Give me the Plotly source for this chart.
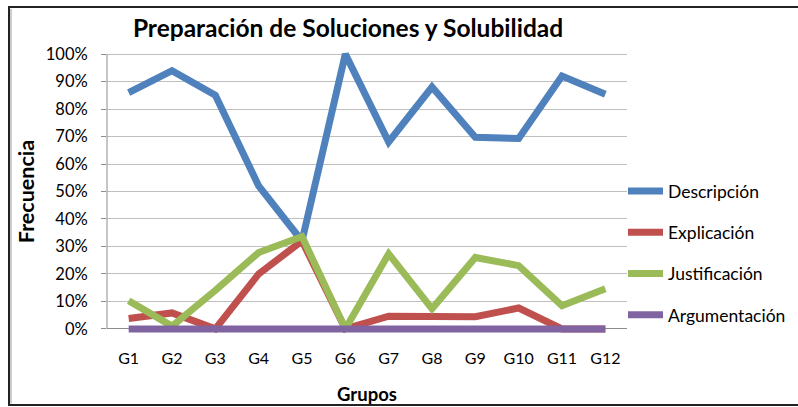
import plotly.graph_objects as go

grupos = ["G1", "G2", "G3", "G4", "G5", "G6", "G7", "G8", "G9", "G10", "G11", "G12"]
descripcion = [0.86, 0.94, 0.85, 0.52, 0.32, 1.00, 0.68, 0.88, 0.697, 0.693, 0.92, 0.854]
explicacion = [0.038, 0.058, 0.0, 0.20, 0.32, 0.0, 0.046, 0.048, 0.044, 0.076, 0.0, 0.0]
justificacion = [0.102, 0.01, 0.14, 0.278, 0.336, 0.0, 0.273, 0.073, 0.26, 0.23, 0.084, 0.146]
argumentacion = [0.0] * 12

series = [
    ("Descripción", descripcion, "#4F81BD"),
    ("Explicación", explicacion, "#C0504D"),
    ("Justificación", justificacion, "#9BBB59"),
    ("Argumentación", argumentacion, "#8064A2"),
]

W, H = 798, 407
FONT = "Lato"
pad = 0.015
plot_left, plot_right = 107, 627
y0_px, y1_px = 328.5, 54
unit = y0_px - y1_px
ml = plot_left
mr = W - plot_right
mt = y1_px - unit * pad
mb = H - y0_px - unit * pad
ph = H - mt - mb
pw = plot_right - plot_left

def px_x(px):
    return (px - ml) / pw

def px_y(py):
    return (H - mb - py) / ph

fig = go.Figure()
for i, (name, vals, color) in enumerate(series):
    fig.add_trace(go.Scatter(
        x=grupos, y=vals, name=name, mode="lines",
        line=dict(color=color, width=7),
        legendgroup=name,
    ))

fig.update_layout(
    width=W, height=H,
    margin=dict(l=ml, r=mr, t=mt, b=mb, autoexpand=False),
    paper_bgcolor="white", plot_bgcolor="white",
    font=dict(family=FONT, color="black", size=16),
    title=dict(text="<b>Preparación de Soluciones y Solubilidad</b>",
               x=px_x(348), xref="paper", xanchor="center",
               y=1 - 28 / H, yref="container", yanchor="middle",
               font=dict(size=24.5, family=FONT, color="black")),
    showlegend=True,
    legend=dict(x=px_x(623), xanchor="left", y=px_y(173), yanchor="top",
                traceorder="grouped", tracegroupgap=15.5, itemwidth=35,
                font=dict(size=17.5, family=FONT, color="black"),
                bgcolor="rgba(0,0,0,0)"),
    xaxis=dict(showgrid=False, showline=False, ticks="", zeroline=False,
               automargin=False,
               range=[-0.5, len(grupos) - 0.5],
               tickfont=dict(size=16, color="black"), ticklabelstandoff=14,
               title=dict(text="<b>Grupos</b>", font=dict(size=18.5), standoff=22)),
    yaxis=dict(range=[-pad, 1 + pad], dtick=0.1, tick0=0, tickformat=".0%",
               automargin=False,
               showgrid=True, gridcolor="#BFBFBF", gridwidth=1,
               zeroline=True, zerolinecolor="#8C8C8C", zerolinewidth=1,
               showline=False, ticks="outside", ticklen=5, tickcolor="#8C8C8C",
               tickfont=dict(size=16.5, color="black"), ticklabelstandoff=10,
               title=dict(text="<b>Frecuencia</b>", font=dict(size=21.5), standoff=5)),
    shapes=[
        dict(type="line", xref="paper", yref="y", x0=0, x1=0, y0=0, y1=1,
             line=dict(color="#8C8C8C", width=1)),
        dict(type="rect", xref="paper", yref="paper",
             x0=px_x(9), x1=px_x(W + 5), y0=px_y(404.5), y1=px_y(7),
             line=dict(color="#222222", width=2), layer="above"),
        dict(type="line", xref="paper", yref="paper",
             x0=px_x(11), x1=px_x(11), y0=px_y(403), y1=px_y(9),
             line=dict(color="#BBBBBB", width=1.5)),
    ],
)

fig.write_html("out.html", config={"displayModeBar": False},
               post_script="document.body.style.margin='0';document.body.style.padding='0';")
